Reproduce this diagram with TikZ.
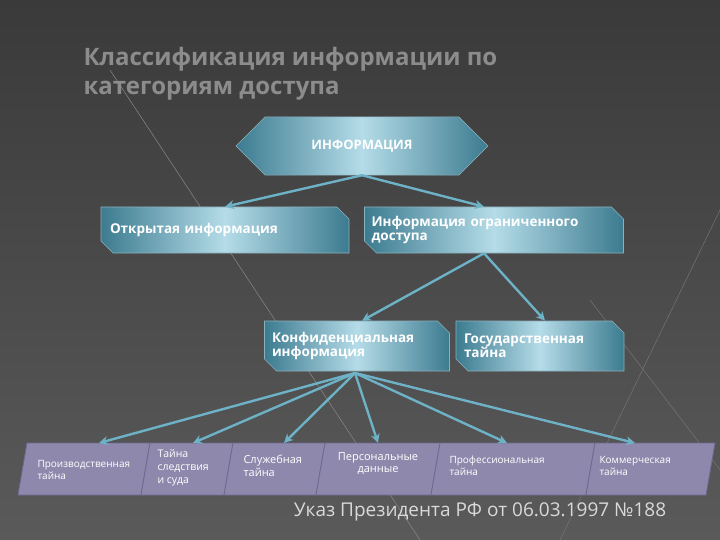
\documentclass[tikz,border=0pt]{standalone}
\usepackage{fontspec}
\setmainfont{Open Sans}
\usetikzlibrary{shapes.misc,arrows.meta,calc}
\definecolor{bgtop}{HTML}{3A3A3A}
\definecolor{bgbot}{HTML}{5A5A5A}
\definecolor{tealL}{HTML}{B5DCE8}
\definecolor{tealD}{HTML}{3C7B90}
\definecolor{arr}{HTML}{6DB2C6}
\definecolor{lav}{HTML}{8E89AC}
\definecolor{lavD}{HTML}{6E6990}
\tikzset{
 tbox/.style={chamfered rectangle, chamfered rectangle corners={north east,south west}, chamfered rectangle xsep=6pt, chamfered rectangle ysep=6pt, left color=tealD, right color=tealD, middle color=tealL, draw=tealD!60!white, line width=0.6pt, text=white, font=\bfseries\fontsize{13.5}{14}\selectfont, align=left, inner sep=0pt},
 conn/.style={draw=arr, line width=2.4pt, -{Stealth[length=9pt,width=9pt]}},
 lbl/.style={text=white, font=\fontsize{10}{12}\selectfont, align=left},
 pbox/.style={fill=lav, draw=lavD, line width=0.8pt}
}
\begin{document}
\begin{tikzpicture}[x=1pt,y=-1pt]
\useasboundingbox (0,0) rectangle (720,540);
\shade[top color=bgtop, bottom color=bgbot] (0,0) rectangle (720,540);
\draw[white!40!bgtop, line width=0.5pt] (110,70) -- (420,540);
\draw[white!30!bgtop, line width=0.5pt] (720,210) -- (560,540);
\draw[white!30!bgtop, line width=0.5pt] (590,300) -- (720,470);
\node[anchor=north west, text=white!55!black, font=\bfseries\fontsize{24}{29}\selectfont, align=left] (title) at (80,44) {Классификация информации по\\категориям доступа};
% hexagon
\node[chamfered rectangle, chamfered rectangle xsep=60pt, chamfered rectangle ysep=23pt, minimum width=252pt, minimum height=46pt, left color=tealD, right color=tealD, middle color=tealL, draw=tealD!60!white, text=white, font=\bfseries\fontsize{13}{14}\selectfont, inner sep=0pt] (info) at (362,146) {ИНФОРМАЦИЯ};
\node[tbox, minimum width=248pt, minimum height=46pt, text width=230pt] (open) at (225,230) {Открытая информация};
\node[tbox, minimum width=259pt, minimum height=46pt, text width=245pt] (restr) at (494,230) {Информация ограниченного\\доступа};
\node[tbox, minimum width=185pt, minimum height=50pt, text width=170pt] (conf) at (357,346) {Конфиденциальная\\информация};
\node[tbox, minimum width=168pt, minimum height=50pt, text width=152pt] (gov) at (540,346) {Государственная\\тайна};
\draw[conn] (info.south) -- (open.north);
\draw[conn] (info.south) -- ($(restr.north)+(-10,0)$);
\draw[conn] ($(restr.south)+(-10,0)$) -- ($(conf.north)+(5,0)$);
\draw[conn] ($(restr.south)+(-10,0)$) -- ($(gov.north)+(5,0)$);
% bottom parallelograms
\foreach \a/\b/\n in {22/145/1,145/228/2,228/320/3,320/435/4,435/590/5,590/710/6}{
  \draw[pbox] (\a+5,443) -- (\b+5,443) -- (\b-4,495) -- (\a-4,495) -- cycle;
  \coordinate (t\n) at ({(\a+\b)/2},443);
}
\node[lbl, anchor=west] (b1) at (34,470) {Производственная\\тайна};
\node[lbl, anchor=west, font=\fontsize{10.5}{13}\selectfont] (b2) at (154,468) {Тайна\\следствия\\и суда};
\node[lbl, anchor=west, font=\fontsize{11}{13}\selectfont] (b3) at (240,466) {Служебная\\тайна};
\node[lbl, align=center, font=\fontsize{11}{12}\selectfont] (b4) at (378,464) {Персональные\\данные};
\node[lbl, anchor=west] (b5) at (446,466) {Профессиональная\\тайна};
\node[lbl, anchor=west] (b6) at (596,466) {Коммерческая\\тайна};
\coordinate (c) at (355,373);
\draw[conn] (c) -- (99,443);
\draw[conn] (c) -- (193,443);
\draw[conn] (c) -- (284,443);
\draw[conn] (c) -- (378,443);
\draw[conn] (c) -- (507,443);
\draw[conn] (c) -- (635,443);
\node[text=white!85!black, font=\fontsize{19}{22}\selectfont] (ukaz) at (480,512) {Указ Президента РФ от 06.03.1997 №188};
\end{tikzpicture}
\end{document}
